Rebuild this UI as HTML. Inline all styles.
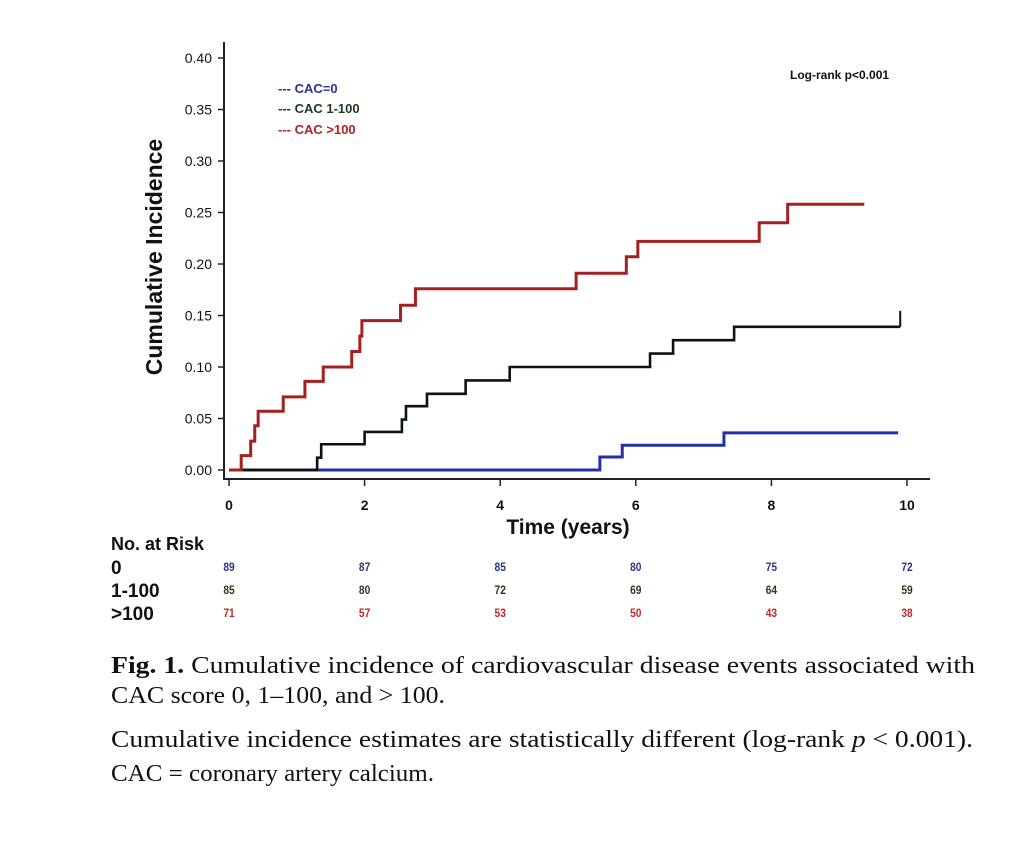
<!DOCTYPE html>
<html><head><meta charset="utf-8"><style>
html,body{margin:0;padding:0;background:#fff;}
svg{display:block;}
text{font-family:"Liberation Sans",sans-serif;}
.serif{font-family:"Liberation Serif",serif;font-size:24px;fill:#111;}
</style></head><body>
<svg id="chart" width="1012" height="853" viewBox="0 0 1012 853">
<g id="axes"></g>
<g id="series"></g>
<g id="legend">
  <text x="278" y="93" font-size="13" font-weight="bold" fill="#2b2f9a">--- CAC=0</text>
  <text x="278" y="113" font-size="13" font-weight="bold" fill="#1f3a1f">--- CAC 1-100</text>
  <text x="278" y="134" font-size="13" font-weight="bold" fill="#b22222">--- CAC &gt;100</text>
</g>
<text x="790" y="79" font-size="12" font-weight="bold" fill="#111">Log-rank p&lt;0.001</text>
<text transform="translate(162,257) rotate(-90)" text-anchor="middle" font-size="23" font-weight="bold" fill="#111">Cumulative Incidence</text>
<text x="568" y="534" text-anchor="middle" font-size="21" font-weight="bold" fill="#111">Time (years)</text>
<g id="risk">
  <text x="111" y="550" font-size="18" font-weight="bold" fill="#111">No. at Risk</text>
  <text x="111" y="574" font-size="19" font-weight="bold" fill="#111">0</text>
  <text x="111" y="597" font-size="19" font-weight="bold" fill="#111">1-100</text>
  <text x="111" y="620" font-size="19" font-weight="bold" fill="#111">&gt;100</text>
</g>
<g>
  <text class="serif" x="111" y="673" textLength="864" lengthAdjust="spacingAndGlyphs"><tspan font-weight="bold">Fig. 1.</tspan> Cumulative incidence of cardiovascular disease events associated with</text>
  <text class="serif" x="111" y="703" textLength="334" lengthAdjust="spacingAndGlyphs">CAC score 0, 1–100, and &gt; 100.</text>
  <text class="serif" x="111" y="747" textLength="862" lengthAdjust="spacingAndGlyphs">Cumulative incidence estimates are statistically different (log-rank <tspan font-style="italic">p</tspan> &lt; 0.001).</text>
  <text class="serif" x="111" y="781" textLength="323" lengthAdjust="spacingAndGlyphs">CAC = coronary artery calcium.</text>
</g>
</svg>
<script>
const yTicks = [0,0.05,0.10,0.15,0.20,0.25,0.30,0.35,0.40];
const xTicks = [0,2,4,6,8,10];
const blueT = [0,5.47,5.8,7.3,9.87];
const blueV = [0,0.0126,0.024,0.036,0.036];
const greenT = [0.18,1.3,1.36,2.0,2.55,2.61,2.92,3.49,4.14,6.21,6.55,7.45,9.9];
const greenV = [0,0.012,0.025,0.037,0.049,0.062,0.074,0.087,0.1,0.113,0.126,0.139,0.139];
const redT = [0,0.18,0.32,0.38,0.43,0.8,1.12,1.39,1.81,1.93,1.96,2.53,2.75,5.12,5.86,6.03,7.82,8.24,9.37];
const redV = [0,0.014,0.028,0.043,0.057,0.071,0.086,0.1,0.115,0.13,0.145,0.16,0.176,0.191,0.207,0.222,0.24,0.258,0.258];
const riskTimes = [0,2,4,6,8,10];
const risk0 = [89,87,85,80,75,72];
const risk1 = [85,80,72,69,64,59];
const risk2 = [71,57,53,50,43,38];

const NS='http://www.w3.org/2000/svg';
const X = t => 229 + t*67.8;
const Y = v => 470 - v*1030;
function mk(tag, attrs, parent){const e=document.createElementNS(NS,tag);for(const k in attrs)e.setAttribute(k,attrs[k]);parent.appendChild(e);return e;}
const axes=document.getElementById('axes');
const ya=mk('line',{x1:224,y1:42,x2:224,y2:480,stroke:'#222','stroke-width':2},axes);


const xa=mk('line',{x1:223,y1:479,x2:930,y2:479,stroke:'#222','stroke-width':2},axes);


yTicks.forEach(v=>{
  mk('line',{x1:218,y1:Y(v),x2:224,y2:Y(v),stroke:'#222','stroke-width':1.5},axes);
  const t=mk('text',{x:212,y:Y(v)+5,'text-anchor':'end','font-size':14,fill:'#111'},axes);
  t.textContent=v.toFixed(2);
  
  
});
xTicks.forEach(v=>{
  mk('line',{x1:X(v),y1:479,x2:X(v),y2:486,stroke:'#222','stroke-width':1.5},axes);
  const t=mk('text',{x:X(v),y:510,'text-anchor':'middle','font-size':14,'font-weight':'bold',fill:'#111'},axes);
  t.textContent=v;
  
  
});
function stepPath(T,V){let d='M'+X(T[0])+','+Y(V[0]);for(let i=1;i<T.length;i++){d+=' H'+X(T[i])+' V'+Y(V[i]);}return d;}
const ser=document.getElementById('series');
const pb=mk('path',{d:stepPath(blueT,blueV),fill:'none',stroke:'#2430a8','stroke-width':3},ser);


const pg=mk('path',{d:stepPath(greenT,greenV),fill:'none',stroke:'#0d140d','stroke-width':2.6},ser);


const gt=mk('line',{x1:X(greenT[greenT.length-1]),y1:Y(greenV[greenV.length-1]),x2:X(greenT[greenT.length-1]),y2:Y(greenV[greenV.length-1])-16,stroke:'#0d140d','stroke-width':2},ser);


const pr=mk('path',{d:stepPath(redT,redV),fill:'none',stroke:'#a52020','stroke-width':3},ser);


const risk=document.getElementById('risk');
[[risk0,'#2b3580',571],[risk1,'#2a3a1a',594],[risk2,'#c0282a',617]].forEach(([arr,c,y])=>{
  arr.forEach((n,i)=>{
    const t=mk('text',{x:X(riskTimes[i]),y:y,'text-anchor':'middle','font-size':12,'font-weight':'bold',fill:c,transform:'translate('+(X(riskTimes[i])*0.15)+',0) scale(0.85,1)'},risk);
    t.textContent=n;
    
    
  });
});
</script>
</body></html>
